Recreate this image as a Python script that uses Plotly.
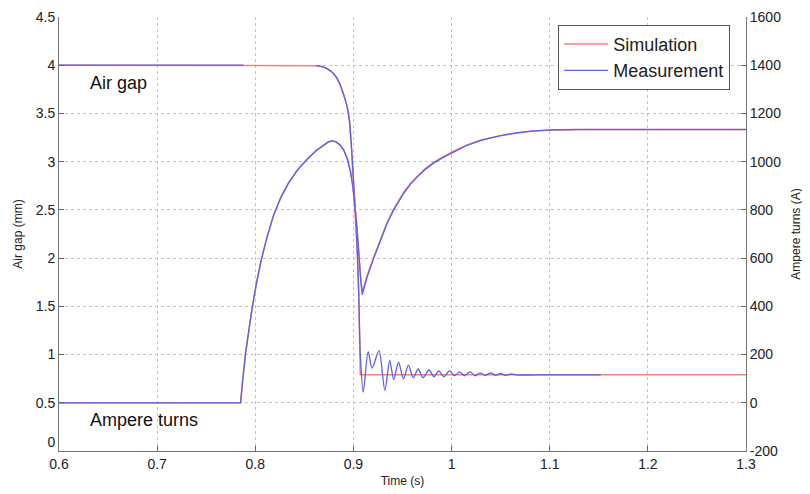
import plotly.graph_objects as go

# ---------------- data ----------------
# Air gap (mm), simulation
t_gap_sim = [0.6, 0.855, 0.862, 0.868, 0.873, 0.878, 0.882, 0.886, 0.889, 0.892,
             0.894, 0.896, 0.898, 0.900, 0.902, 0.904, 0.9055, 0.9065, 0.907, 1.3]
gap_sim = [4.0, 4.0, 3.995, 3.985, 3.965, 3.93, 3.885, 3.81, 3.73, 3.63,
           3.55, 3.42, 3.15, 2.82, 2.5, 2.05, 1.6, 1.2, 0.79, 0.79]

# Air gap (mm), measurement (record missing between 0.789 and 0.862)
t_gap_meas = [0.6, 0.788, None, 0.862, 0.868, 0.873, 0.878, 0.882, 0.886, 0.889, 0.892,
              0.894, 0.896, 0.898, 0.900, 0.902, 0.904, 0.9055, 0.907, 0.910,
              0.915, 0.919, 0.926, 0.932, 0.937, 0.941, 0.946, 0.951, 0.956, 0.961,
              0.966, 0.971, 0.977, 0.982, 0.987, 0.992, 0.998, 1.003, 1.008, 1.013,
              1.019, 1.024, 1.029, 1.034, 1.040, 1.045, 1.050, 1.055, 1.061, 1.066,
              1.100, 1.152]
gap_meas = [4.0, 4.0, None, 3.995, 3.985, 3.965, 3.93, 3.885, 3.81, 3.73, 3.63,
            3.55, 3.42, 3.15, 2.82, 2.5, 2.05, 1.6, 1.0, 0.61,
            1.03, 0.86, 1.04, 0.63, 0.94, 0.74, 0.92, 0.75, 0.89, 0.76,
            0.85, 0.76, 0.84, 0.77, 0.83, 0.77, 0.83, 0.78, 0.82, 0.78,
            0.82, 0.78, 0.81, 0.785, 0.81, 0.785, 0.805, 0.785, 0.80, 0.79,
            0.79, 0.79]

# Ampere turns (A), simulation
t_at_sim = [0.6, 0.785, 0.7875, 0.790, 0.7935, 0.797, 0.8015, 0.806, 0.812, 0.8185,
            0.826, 0.834, 0.843, 0.853, 0.862, 0.870, 0.874, 0.878, 0.882, 0.886,
            0.890, 0.894, 0.897, 0.8995, 0.9015, 0.903, 0.9045, 0.906, 0.9075, 0.909,
            0.914, 0.9207, 0.9276, 0.9344, 0.9411, 0.9513, 0.958, 0.965, 0.973, 0.982,
            0.991, 1.0, 1.015, 1.03, 1.05, 1.065, 1.081, 1.10, 1.13, 1.3]
at_sim = [0, 0, 105, 200, 300, 398, 500, 590, 686, 775,
          850, 912, 965, 1010, 1045, 1070, 1080, 1086, 1082, 1070,
          1050, 1010, 960, 895, 830, 760, 680, 590, 515, 459,
          528, 604, 680, 749, 804, 873, 910, 940, 970, 998,
          1020, 1039, 1068, 1090, 1108, 1118, 1126, 1130, 1132, 1132]

# Ampere turns (A), measurement
t_at_meas = [0.6, 0.785, 0.7875, 0.790, 0.7935, 0.797, 0.8015, 0.806, 0.812, 0.8185,
             0.826, 0.834, 0.843, 0.853, 0.862, 0.870, 0.874, 0.878, 0.882, 0.886,
             0.890, 0.894, 0.897, 0.8995, 0.9015, 0.903, 0.9045, 0.906, 0.9075, 0.909,
             0.914, 0.9207, 0.9276, 0.9344, 0.9411, 0.9513, 0.958, 0.965, 0.973, 0.982,
             0.991, 1.0, 1.015, 1.03, 1.05, 1.065, 1.081, 1.10, 1.13, 1.3]
at_meas = [0, 0, 108, 203, 303, 400, 502, 592, 688, 777,
           852, 913, 966, 1011, 1046, 1071, 1081, 1087, 1083, 1071,
           1049, 1008, 958, 892, 825, 752, 670, 580, 505, 448,
           522, 600, 676, 745, 800, 869, 906, 937, 967, 995,
           1017, 1036, 1066, 1088, 1108, 1119, 1127, 1132, 1134, 1134]

x_ticks = [0.6, 0.7, 0.8, 0.9, 1.0, 1.1, 1.2, 1.3]
x_labels = ["0.6", "0.7", "0.8", "0.9", "1", "1.1", "1.2", "1.3"]
y_ticks = [0, 0.5, 1, 1.5, 2, 2.5, 3, 3.5, 4, 4.5]
y_labels = ["0<br>\u00a0", "0.5", "1", "1.5", "2", "2.5", "3", "3.5", "4", "4.5"]
y2_ticks = [-200, 0, 200, 400, 600, 800, 1000, 1200, 1400, 1600]
y2_labels = ["-200", "0", "200", "400", "600", "800", "1000", "1200", "1400", "1600"]

# ---------------- figure ----------------
SIM = "rgb(240,130,135)"
MEAS = "rgb(95,95,235)"
FONT = "Liberation Sans, Arial, sans-serif"

fig = go.Figure()
fig.add_trace(go.Scatter(x=t_gap_sim, y=gap_sim, mode="lines", name="Simulation",
                         line=dict(color=SIM, width=1.5), legendgroup="s"))
fig.add_trace(go.Scatter(x=t_gap_meas, y=gap_meas, mode="lines", name="Measurement",
                         line=dict(color=MEAS, width=1.3, shape="spline", smoothing=0.8),
                         legendgroup="m", connectgaps=False))
fig.add_trace(go.Scatter(x=t_at_sim, y=at_sim, mode="lines", name="Simulation",
                         line=dict(color=SIM, width=1.5), yaxis="y2",
                         showlegend=False, legendgroup="s"))
fig.add_trace(go.Scatter(x=t_at_meas, y=at_meas, mode="lines", name="Measurement",
                         line=dict(color=MEAS, width=1.3), yaxis="y2",
                         showlegend=False, legendgroup="m"))

axis_common = dict(
    showline=True, linecolor="#777", linewidth=1,
    ticks="inside", ticklen=5, tickcolor="#666",
    tickfont=dict(family=FONT, size=14, color="#222"),
    zeroline=False, automargin=False, ticklabeloverflow="allow",
)

# page has an 8px body margin; margins below compensate for it
fig.update_layout(
    width=810, height=494,
    margin=dict(l=51, r=72, t=9, b=51),
    paper_bgcolor="white", plot_bgcolor="white",
    font=dict(family=FONT, color="#222"),
    xaxis=dict(range=[0.6, 1.3], tickvals=x_ticks, ticktext=x_labels,
               showgrid=True, gridcolor="#c4c4c4", griddash="dot", gridwidth=1,
               title=dict(text="Time (s)", font=dict(family=FONT, size=12), standoff=5),
               **axis_common),
    yaxis=dict(range=[0, 4.5], tickvals=y_ticks, ticktext=y_labels,
               showgrid=True, gridcolor="#c4c4c4", griddash="dot", gridwidth=1,
               title=dict(text="Air gap (mm)", font=dict(family=FONT, size=12), standoff=10),
               **axis_common),
    yaxis2=dict(range=[-200, 1600], tickvals=y2_ticks, ticktext=y2_labels,
                overlaying="y", side="right", showgrid=False,
                title=dict(text="Ampere turns (A)", font=dict(family=FONT, size=12), standoff=11),
                **axis_common),
    legend=dict(x=0.977, y=0.982, xanchor="right", yanchor="top",
                bgcolor="white", bordercolor="#555", borderwidth=1,
                font=dict(family=FONT, size=18, color="#222"),
                tracegroupgap=0, itemwidth=44),
    showlegend=True,
)

fig.add_annotation(x=0.6296, y=3.82, xref="x", yref="y", text="Air gap",
                   showarrow=False, xanchor="left", yanchor="middle",
                   font=dict(family=FONT, size=18, color="#111"))
fig.add_annotation(x=0.6296, y=0.32, xref="x", yref="y", text="Ampere turns",
                   showarrow=False, xanchor="left", yanchor="middle",
                   font=dict(family=FONT, size=18, color="#111"))

fig.write_html("out.html")
